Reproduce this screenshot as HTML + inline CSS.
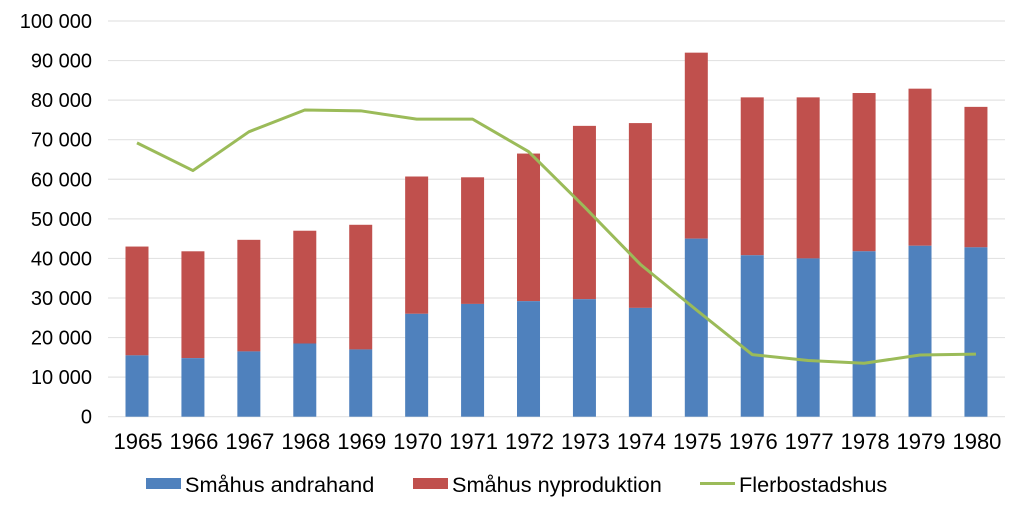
<!DOCTYPE html>
<html><head><meta charset="utf-8"><style>
html,body{margin:0;padding:0;background:#fff;width:1024px;height:512px;overflow:hidden}
svg text{font-family:"Liberation Sans",Arial,sans-serif;fill:#000}
</style></head><body>
<svg id="c" width="1024" height="512" xmlns="http://www.w3.org/2000/svg"></svg>
<script>
var s=document.getElementById('c'),h='';
function Y(v){return 416.7-v*0.003957;}
for(var i=0;i<=10;i++){var y=Y(i*10000);
h+='<line x1="108" x2="1005" y1="'+y+'" y2="'+y+'" stroke="#e3e3e3" stroke-width="1.2"/>';
var l=i==0?'0':(i*10)+' 000';
h+='<text x="92" y="'+(y+7)+'" font-size="20" text-anchor="end">'+l+'</text>';}
var b=[15500,14800,16500,18500,17000,26000,28500,29200,29700,27500,45000,40800,40000,41800,43200,42800];
var t=[43000,41800,44700,47000,48500,60700,60500,66500,73500,74200,92000,80700,80700,81800,82900,78300];
var ln=[69200,62200,72000,77500,77300,75200,75200,67000,53000,38500,27000,15700,14200,13500,15600,15800];
var pts=[];
for(var i=0;i<16;i++){var cx=137+i*55.93;
h+='<rect x="'+(cx-11.5)+'" y="'+Y(t[i])+'" width="23" height="'+(Y(b[i])-Y(t[i]))+'" fill="#c0504d"/>';
h+='<rect x="'+(cx-11.5)+'" y="'+Y(b[i])+'" width="23" height="'+(Y(0)-Y(b[i]))+'" fill="#4f81bd"/>';
h+='<text x="'+(cx+1)+'" y="449" font-size="22" text-anchor="middle">'+(1965+i)+'</text>';
pts.push(cx+','+Y(ln[i]));}
h+='<polyline points="'+pts.join(' ')+'" fill="none" stroke="#9bbb59" stroke-width="3" stroke-linejoin="round"/>';
h+='<rect x="146" y="478" width="35" height="11" fill="#4f81bd"/><text x="185" y="492" font-size="21.7">Småhus andrahand</text>';
h+='<rect x="413" y="478" width="35" height="11" fill="#c0504d"/><text x="452" y="492" font-size="21.7">Småhus nyproduktion</text>';
h+='<line x1="700" x2="735" y1="483.5" y2="483.5" stroke="#9bbb59" stroke-width="3"/><text x="739" y="492" font-size="21.7">Flerbostadshus</text>';
s.innerHTML=h;
</script>
</body></html>
